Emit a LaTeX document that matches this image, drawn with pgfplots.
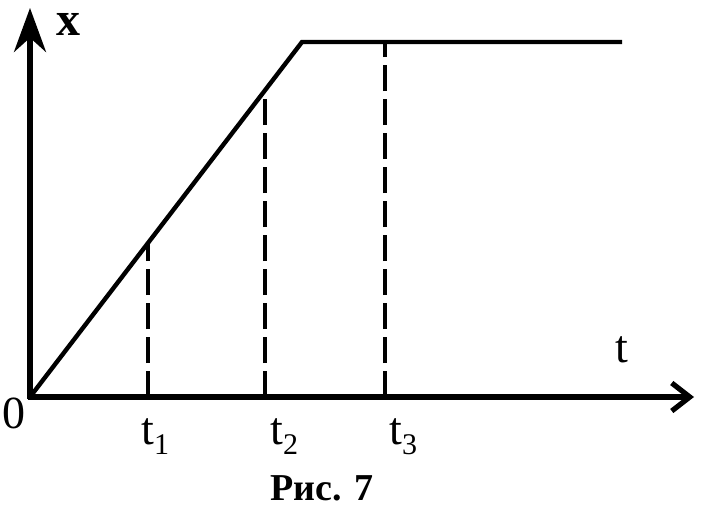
\documentclass[border=0pt]{standalone}
\usepackage{pgfplots}
\pgfplotsset{compat=1.18}
\usepackage{fontspec}
\setmainfont{Liberation Serif}
\usetikzlibrary{arrows.meta}
\begin{document}
\begin{tikzpicture}
\begin{axis}[
  scale only axis, width=357.5pt, height=255pt,
  xmin=0, xmax=715, ymin=0, ymax=510,
  hide axis, clip=false,
]
% axes
\addplot[line width=2.6pt, -{Stealth[length=22pt,width=16pt]}] coordinates {(30,111) (30,502)};
\addplot[line width=2.6pt, -{Straight Barb[length=9pt,width=14pt,line width=2.6pt]}] coordinates {(28,113) (694,113)};
% graph
\addplot[line width=2.2pt, line join=miter] coordinates {(30,113) (302,468) (622,468)};
% dashed guides
\addplot[line width=1.6pt, dash pattern=on 13pt off 4pt] coordinates {(148,113) (148,268)};
\addplot[line width=1.6pt, dash pattern=on 13pt off 4pt] coordinates {(265,113) (265,421)};
\addplot[line width=1.6pt, dash pattern=on 13pt off 4pt] coordinates {(385,113) (385,468)};
% labels
\node[font=\fontsize{24}{24}\selectfont\bfseries] at (axis cs:68,486) {x};
\node[font=\fontsize{23}{23}\selectfont] at (axis cs:14,97) {0};
\node[font=\fontsize{23}{23}\selectfont] at (axis cs:622,160) {t};
\node[anchor=base west, inner sep=0pt] at (axis cs:141,66) {\fontsize{23}{23}\selectfont t\raisebox{-5pt}{\fontsize{15}{15}\selectfont 1}};
\node[anchor=base west, inner sep=0pt] at (axis cs:270,66) {\fontsize{23}{23}\selectfont t\raisebox{-5pt}{\fontsize{15}{15}\selectfont 2}};
\node[anchor=base west, inner sep=0pt] at (axis cs:389,66) {\fontsize{23}{23}\selectfont t\raisebox{-5pt}{\fontsize{15}{15}\selectfont 3}};
\node[anchor=base, inner sep=0pt, font=\fontsize{19}{19}\selectfont\bfseries] at (axis cs:322,10) {Рис. 7};
\end{axis}
\pgfresetboundingbox
\path (current axis.south west) rectangle (current axis.north east);
\end{tikzpicture}
\end{document}
